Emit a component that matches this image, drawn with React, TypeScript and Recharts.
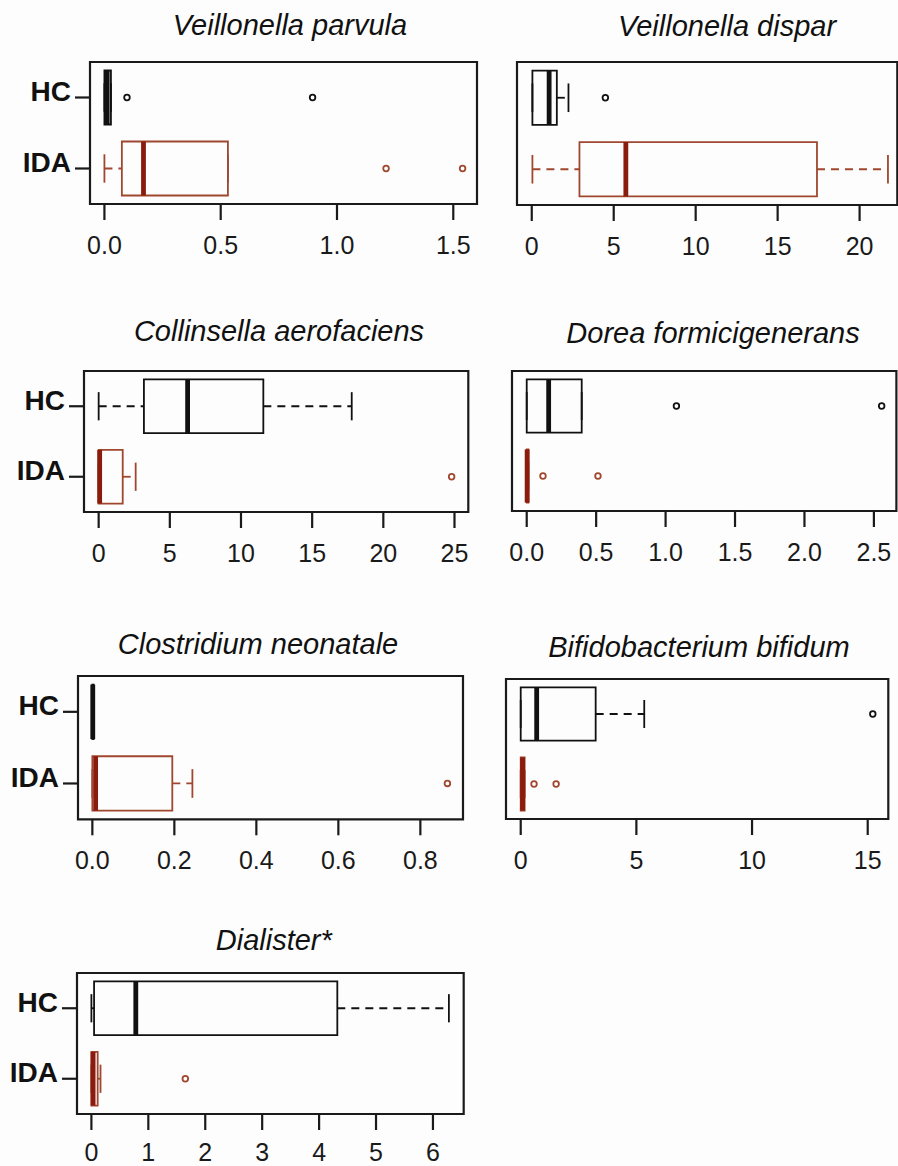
import React from 'react';
import { ScatterChart, Scatter, XAxis, YAxis, ReferenceArea, ReferenceLine } from 'recharts';

const panelTitles = [
  'Veillonella parvula',
  'Veillonella dispar',
  'Collinsella aerofaciens',
  'Dorea formicigenerans',
  'Clostridium neonatale',
  'Bifidobacterium bifidum',
  'Dialister*',
];
const groupNames = ['HC', 'IDA'];
// [lower whisker, Q1, median, Q3, upper whisker]
const hcStats = [
  [0, 0, 0.012, 0.028, 0.028],
  [0.04, 0.04, 1.06, 1.53, 2.24],
  [0, 3.18, 6.25, 11.57, 17.78],
  [0, 0, 0.158, 0.396, 0.396],
  [0, 0, 0.001, 0.003, 0.003],
  [0, 0, 0.69, 3.24, 5.34],
  [0, 0.047, 0.78, 4.32, 6.28],
];
const idaStats = [
  [0, 0.075, 0.168, 0.531, 0.531],
  [0.04, 2.91, 5.74, 17.4, 21.73],
  [0, 0, 0.07, 1.69, 2.6],
  [0, 0, 0.003, 0.012, 0.012],
  [0, 0, 0.008, 0.195, 0.244],
  [0, 0, 0.08, 0.17, 0.17],
  [0, 0, 0.03, 0.11, 0.16],
];
const hcOutliers = [[0.097, 0.895], [4.49], [], [1.078, 2.556], [], [15.22], []];
const idaOutliers = [[1.211, 1.54], [], [24.8], [0.117, 0.513], [0.866], [0.575, 1.53], [1.65]];
const xTicks = [
  [0, 0.5, 1, 1.5],
  [0, 5, 10, 15, 20],
  [0, 5, 10, 15, 20, 25],
  [0, 0.5, 1, 1.5, 2, 2.5],
  [0, 0.2, 0.4, 0.6, 0.8],
  [0, 5, 10, 15],
  [0, 1, 2, 3, 4, 5, 6],
];
const xTickLabels = [
  ['0.0', '0.5', '1.0', '1.5'],
  ['0', '5', '10', '15', '20'],
  ['0', '5', '10', '15', '20', '25'],
  ['0.0', '0.5', '1.0', '1.5', '2.0', '2.5'],
  ['0.0', '0.2', '0.4', '0.6', '0.8'],
  ['0', '5', '10', '15'],
  ['0', '1', '2', '3', '4', '5', '6'],
];
const xDomains = [
  [-0.062, 1.602],
  [-0.9, 22.3],
  [-1.03, 25.97],
  [-0.106, 2.662],
  [-0.035, 0.904],
  [-0.636, 15.89],
  [-0.253, 6.54],
];

// layout (pixel frames of each panel, title anchor)
const layout = [
  { L: 90, T: 61.5, R: 477, B: 203.5, tx: 290, ty: 35, yMode: 'labels', tm: 16 },
  { L: 516.7, T: 61.5, R: 897, B: 204.5, tx: 727, ty: 36, yMode: 'none', tm: 16 },
  { L: 84, T: 370.7, R: 468.3, B: 511.7, tx: 279, ty: 340.7, yMode: 'labels', tm: 16 },
  { L: 512.3, T: 370.7, R: 896.7, B: 510.7, tx: 713, ty: 343.3, yMode: 'ticks', tm: 16 },
  { L: 78.3, T: 676, R: 463.3, B: 819.3, tx: 258, ty: 654, yMode: 'labels', tm: 16 },
  { L: 506, T: 679.3, R: 888.3, B: 819.3, tx: 699, ty: 656.7, yMode: 'none', tm: 16 },
  { L: 77.3, T: 973.3, R: 464, B: 1114.3, tx: 273.8, ty: 950, yMode: 'labels', tm: 13 },
];

const FONT = '"Liberation Sans", Arial, Helvetica, sans-serif';
const BLACK = '#111111';
const BROWN = '#A0472F';
const BROWN_MED = '#8A1C0E';
const AXIS = '#1a1a1a';
const BOX_HALF = 0.38;
const CAP_HALF = 0.2;
const LW = 1.8;

const YTick = (props: any) => {
  const { x, y, payload } = props;
  return (
    <text x={x} y={y} dy={3.5} textAnchor="end" fontSize={28} fontWeight="bold" fill={BLACK} fontFamily={FONT}>
      {groupNames[payload.value - 1]}
    </text>
  );
};

const makeDot = (color: string) => (props: any) => {
  const { cx, cy } = props;
  return <circle cx={cx} cy={cy} r={2.8} fill="#fff" stroke={color} strokeWidth={1.8} />;
};

function boxElements(stats: number[], g: number, boxColor: string, medColor: string, key: string) {
  const [lo, q1, med, q3, hi] = stats;
  return [
    <ReferenceLine key={key + 'wl'} ifOverflow="visible" segment={[{ x: lo, y: g }, { x: q1, y: g }]} stroke={boxColor} strokeWidth={LW} strokeDasharray="8 6" />,
    <ReferenceLine key={key + 'wh'} ifOverflow="visible" segment={[{ x: q3, y: g }, { x: hi, y: g }]} stroke={boxColor} strokeWidth={LW} strokeDasharray="8 6" />,
    <ReferenceLine key={key + 'cl'} ifOverflow="visible" segment={[{ x: lo, y: g - CAP_HALF }, { x: lo, y: g + CAP_HALF }]} stroke={boxColor} strokeWidth={LW} />,
    <ReferenceLine key={key + 'ch'} ifOverflow="visible" segment={[{ x: hi, y: g - CAP_HALF }, { x: hi, y: g + CAP_HALF }]} stroke={boxColor} strokeWidth={LW} />,
    <ReferenceArea key={key + 'box'} ifOverflow="visible" x1={q1} x2={q3} y1={g - BOX_HALF} y2={g + BOX_HALF} fill="none" fillOpacity={0} stroke={boxColor} strokeWidth={LW} />,
    <ReferenceLine key={key + 'med'} ifOverflow="visible" segment={[{ x: med, y: g - BOX_HALF }, { x: med, y: g + BOX_HALF }]} stroke={medColor} strokeWidth={4.8} />,
  ];
}

function Panel({ i }: { i: number }) {
  const f = layout[i];
  const yW = f.yMode === 'labels' ? 90 : 10;
  const xH = 60;
  const mTop = 4;
  const mRight = 4;
  const w = yW + (f.R - f.L) + mRight;
  const h = mTop + (f.B - f.T) + xH;
  const ticks = xTicks[i];
  const labels = xTickLabels[i];
  const [dlo, dhi] = xDomains[i];
  const hcData = hcOutliers[i].map((v) => ({ x: v, y: 1 }));
  const idaData = idaOutliers[i].map((v) => ({ x: v, y: 2 }));
  return (
    <div style={{ position: 'absolute', left: f.L - yW, top: f.T - mTop, width: w, height: h }}>
      <ScatterChart width={w} height={h} margin={{ top: mTop, right: mRight, bottom: 0, left: 0 }}>
        <XAxis
          type="number"
          dataKey="x"
          domain={[dlo, dhi]}
          allowDataOverflow
          ticks={ticks}
          interval={0}
          axisLine={false}
          tickLine={{ stroke: AXIS, strokeWidth: 2.2 }}
          tickSize={16}
          tickMargin={f.tm}
          height={xH}
          tick={{ fontSize: 25, fill: AXIS, fontFamily: FONT }}
          tickFormatter={(v: number) => labels[ticks.indexOf(v)]}
        />
        <YAxis
          type="number"
          dataKey="y"
          domain={[0.5, 2.5]}
          allowDataOverflow
          reversed
          ticks={[1, 2]}
          interval={0}
          width={yW}
          axisLine={false}
          tickLine={f.yMode === 'none' ? false : { stroke: AXIS, strokeWidth: 2.2 }}
          tickSize={f.yMode === 'labels' ? 15 : 4}
          tickMargin={4}
          tick={f.yMode === 'labels' ? <YTick /> : false}
        />
        <ReferenceArea ifOverflow="visible" x1={dlo} x2={dhi} y1={0.5} y2={2.5} fill="none" fillOpacity={0} stroke={AXIS} strokeWidth={2.2} />
        {boxElements(hcStats[i], 1, BLACK, BLACK, 'hc')}
        {boxElements(idaStats[i], 2, BROWN, BROWN_MED, 'ida')}
        <Scatter data={hcData} shape={makeDot(BLACK)} isAnimationActive={false} />
        <Scatter data={idaData} shape={makeDot(BROWN)} isAnimationActive={false} />
      </ScatterChart>
    </div>
  );
}

export default function App() {
  return (
    <div style={{ position: 'absolute', left: 0, top: 0, width: 898, height: 1166, overflow: 'hidden', background: '#fdfdfd' }}>
      {panelTitles.map((_, i) => (
        <Panel key={i} i={i} />
      ))}
      <svg width={898} height={1166} style={{ position: 'absolute', left: 0, top: 0, pointerEvents: 'none' }}>
        {panelTitles.map((t, i) => (
          <text key={t} x={layout[i].tx} y={layout[i].ty} textAnchor="middle" fontSize={29} fontStyle="italic" fill={BLACK} fontFamily={FONT}>
            {t}
          </text>
        ))}
      </svg>
    </div>
  );
}
